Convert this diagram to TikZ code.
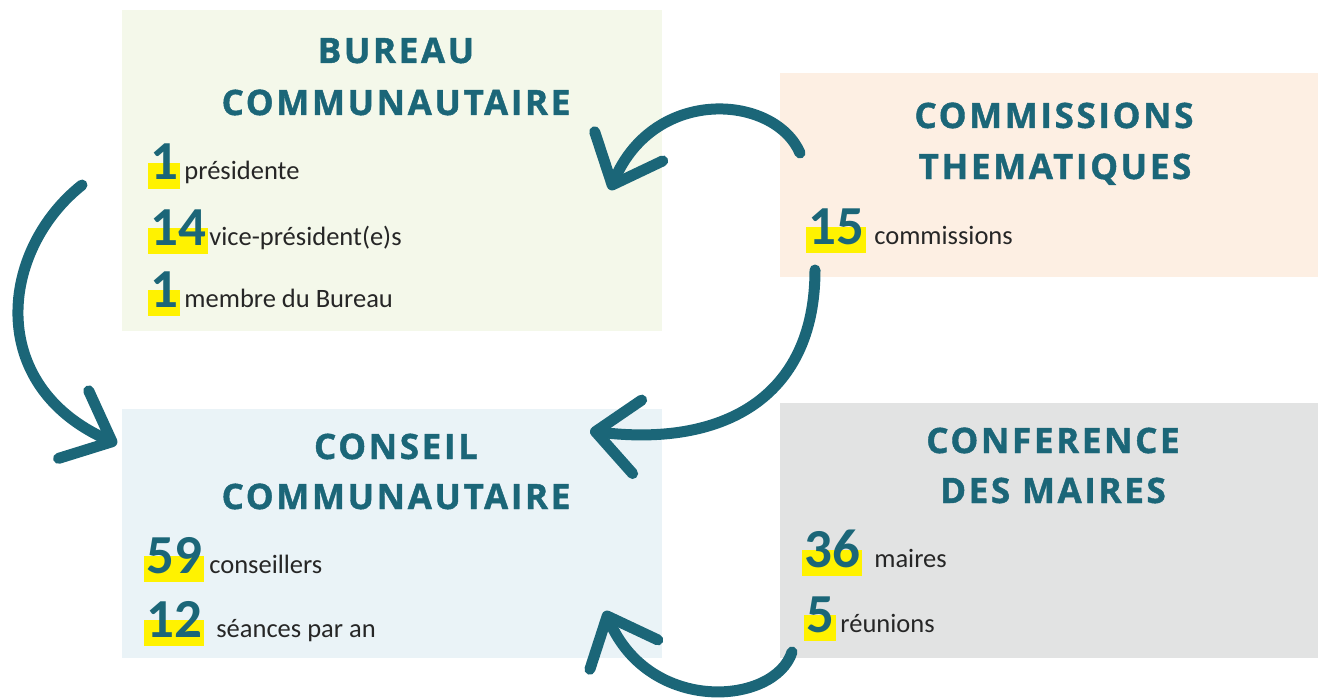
\documentclass[tikz,border=0pt]{standalone}
\usepackage{fontspec}
\setmainfont{Carlito}
\newfontfamily\titlefont{Open Sans}[LetterSpace=7.5, BoldFeatures={FakeBold=1.2}]
\usetikzlibrary{arrows.meta,backgrounds,positioning}
\definecolor{cteal}{HTML}{1B6678}
\definecolor{ctext}{HTML}{262626}
\definecolor{cyellow}{HTML}{FFF200}
\definecolor{cbureau}{HTML}{F4F8EA}
\definecolor{ccomm}{HTML}{FDEFE3}
\definecolor{cconseil}{HTML}{EAF3F7}
\definecolor{cconf}{HTML}{E2E3E3}
\tikzset{title/.style={font=\titlefont\bfseries\fontsize{35}{35}\selectfont,
    text=cteal, anchor=base, inner sep=0pt}}
\tikzset{number/.style={font=\bfseries\fontsize{55}{55}\selectfont,
    text=cteal, anchor=base west, inner xsep=2pt, inner ysep=0pt}}
\tikzset{stat text/.style={font=\fontsize{26.5}{26.5}\selectfont,
    text=ctext, anchor=base west, inner sep=0pt}}
\tikzset{panel/.style={anchor=north west, inner sep=0pt}}
\tikzset{highlight/.style={fill=cyellow}}
\tikzset{brush arrow/.style={draw=cteal, line width=11pt, line cap=round,
    -{Straight Barb[length=42pt,width=74pt,round]}}}

\begin{document}
\begin{tikzpicture}[x=1pt, y=-1pt]
  \useasboundingbox (0,0) rectangle (1318,698);

  % titles
  \node [title] (bureau1)  at ( 396,  63) {BUREAU};
  \node [title] (bureau2)  at ( 396, 115) {COMMUNAUTAIRE};
  \node [title] (comm1)    at (1054, 128) {COMMISSIONS};
  \node [title] (comm2)    at (1055, 179) {THEMATIQUES};
  \node [title] (conseil1) at ( 396, 459) {CONSEIL};
  \node [title] (conseil2) at ( 396, 509) {COMMUNAUTAIRE};
  \node [title] (conf1)    at (1053, 453) {CONFERENCE};
  \node [title] (conf2)    at (1053, 503) {DES MAIRES};

  % figures
  \node [number]    (pres)     at (148, 180) {1};
  \node [stat text] (pres t)   at ([xshift=4pt]pres.base east) {présidente};
  \node [number]    (vice)     at (148, 245) {14};
  \node [stat text] (vice t)   at ([xshift=1pt]vice.base east) {vice-président(e)s};
  \node [number]    (memb)     at (148, 307) {1};
  \node [stat text] (memb t)   at ([xshift=4pt]memb.base east) {membre du Bureau};

  \node [number]    (coms)     at (806, 244) {15};
  \node [stat text] (coms t)   at ([xshift=8pt]coms.base east) {commissions};

  \node [number]    (cons)     at (144, 573) {59};
  \node [stat text] (cons t)   at ([xshift=5pt]cons.base east) {conseillers};
  \node [number]    (seances)  at (144, 637) {12};
  \node [stat text] (seances t) at ([xshift=12pt]seances.base east) {séances par an};

  \node [number]    (maires)   at (802, 567) {36};
  \node [stat text] (maires t) at ([xshift=12pt]maires.base east) {maires};
  \node [number]    (reun)     at (804, 632) {5};
  \node [stat text] (reun t)   at ([xshift=4pt]reun.base east) {réunions};

  % arrows
  \coordinate (comm out)    at (800, 153);
  \coordinate (bureau in)   at (610, 190);
  \coordinate (comm down)   at (815, 270);
  \coordinate (conseil in)  at (590, 431);
  \coordinate (conf out)    at (792, 652);
  \coordinate (conseil up)  at (605, 611);
  \coordinate (bureau out)  at ( 82, 185);
  \coordinate (conseil left) at (117, 444);

  \draw [brush arrow] (comm out)   .. controls (775,  95) and (655,  85) .. (bureau in);
  \draw [brush arrow] (comm down)  .. controls (815, 400) and (720, 447) .. (conseil in);
  \draw [brush arrow] (conf out)   .. controls (775, 705) and (650, 715) .. (conseil up);
  \draw [brush arrow] (bureau out) .. controls (  0, 250) and (-15, 385) .. (conseil left);

  \begin{pgfonlayer}{background}
    \node [panel, fill=cbureau,  minimum width=540pt, minimum height=321pt] (bureau)  at (122,  10) {};
    \node [panel, fill=ccomm,    minimum width=538pt, minimum height=204pt] (comm)    at (780,  73) {};
    \node [panel, fill=cconseil, minimum width=540pt, minimum height=249pt] (conseil) at (122, 409) {};
    \node [panel, fill=cconf,    minimum width=538pt, minimum height=255pt] (conf)    at (780, 403) {};

    \foreach \n in {pres, vice, memb, coms, cons, seances, maires, reun}
      \fill [highlight] ([yshift=17pt]\n.base west) rectangle ([yshift=-9pt]\n.base east);
  \end{pgfonlayer}
\end{tikzpicture}
\end{document}
